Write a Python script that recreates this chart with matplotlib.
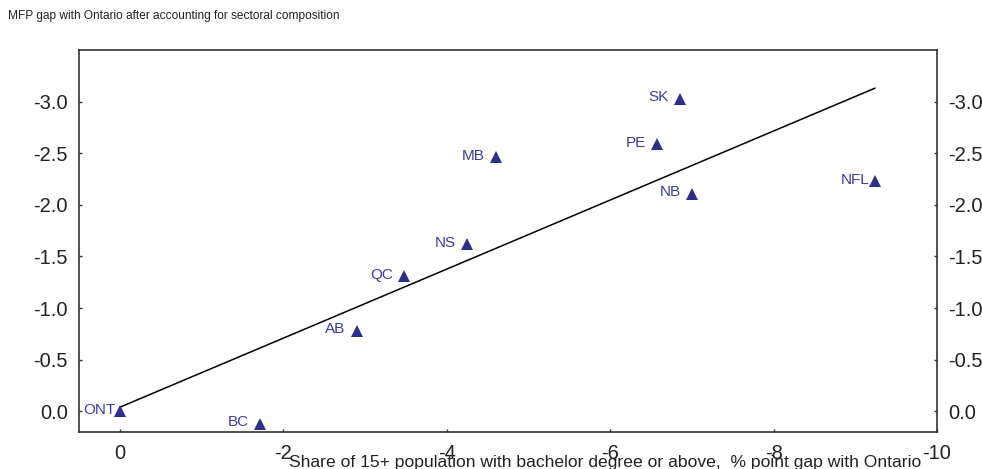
import matplotlib
matplotlib.use("Agg")
import matplotlib.pyplot as plt

plt.rcParams['font.family'] = ['Liberation Sans', 'DejaVu Sans']

# Provinces: education gap (x) vs MFP gap after sectoral composition (y)
provinces = ['ONT', 'BC', 'AB', 'QC', 'NS', 'MB', 'PE', 'NB', 'SK', 'NFL']
edu_gap = [0.0, -1.72, -2.90, -3.48, -4.25, -4.60, -6.57, -7.00, -6.85, -9.24]
mfp_gap = [0.0, 0.12, -0.78, -1.31, -1.62, -2.46, -2.59, -2.11, -3.03, -2.23]

# trend line end points
trend_x = [0.0, -9.24]
trend_y = [-0.04, -3.13]

y_ticks = [0.0, -0.5, -1.0, -1.5, -2.0, -2.5, -3.0]
x_ticks = [0, -2, -4, -6, -8, -10]

marker_col = '#2b2e8c'
label_col = '#3b3ba0'
axis_col = '#333333'

fig = plt.figure(figsize=(9.82, 4.69), dpi=100)
ax = fig.add_axes([79 / 982, 1 - 432 / 469, 858 / 982, 382 / 469])

ax.plot(trend_x, trend_y, color='black', lw=1.1, zorder=2)
ax.plot(edu_gap, mfp_gap, ls='none', marker='^', ms=9, color=marker_col,
        mec=marker_col, mew=0, zorder=3)

# labels sit left of the markers; a couple are tucked in closer
close = {'ONT': 3, 'NFL': 4}
for name, xv, yv in zip(provinces, edu_gap, mfp_gap):
    off = close.get(name, 8)
    ax.annotate(name, (xv, yv), xytext=(-off, 1), textcoords='offset points',
                ha='right', va='center', fontsize=11, color=label_col, zorder=4)

ax.set_xlim(0.5, -10)
ax.set_ylim(0.2, -3.5)
ax.set_xticks(x_ticks)
ax.set_xticklabels([str(v) for v in x_ticks])
ax.set_yticks(y_ticks)
ax.set_yticklabels([f'{v:.1f}' for v in y_ticks])

ax.tick_params(axis='both', direction='in', length=2.5, width=1,
               colors=axis_col, labelcolor='#222222', labelsize=14.5)
ax.tick_params(axis='x', pad=8.5)
ax.tick_params(axis='y', pad=8, right=True, labelright=True)

for sp in ax.spines.values():
    sp.set_color(axis_col)
    sp.set_linewidth(1.2)

ax.set_xlabel('Share of 15+ population with bachelor degree or above,  % point gap with Ontario',
              fontsize=12.6, color='#222222')
ax.xaxis.set_label_coords((605 - 79) / 858, -0.06)

fig.text(8 / 982, 1 - 10 / 469,
         'MFP gap with Ontario after accounting for sectoral composition',
         ha='left', va='top', fontsize=8.6, color='#222222')

fig.savefig('out.png', dpi=100)
